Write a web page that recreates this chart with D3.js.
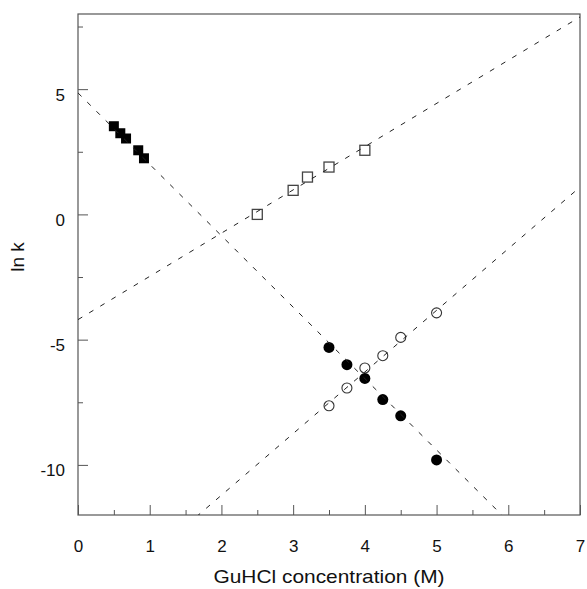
<!DOCTYPE html>
<html>
<head>
<meta charset="utf-8">
<script src="https://cdn.jsdelivr.net/npm/d3@7"></script>
<style>
  html, body { margin: 0; padding: 0; background: #fff; }
  text { font-family: "Liberation Sans", Arial, sans-serif; fill: #111; }
</style>
</head>
<body>
<svg id="chart" width="587" height="589"></svg>
<script>
// ---- Data ----
const filledSquareX = [0.5, 0.59, 0.67, 0.84, 0.92];
const filledSquareY = [3.52, 3.24, 3.03, 2.56, 2.24];
const openSquareX = [2.5, 3.0, 3.2, 3.5, 4.0];
const openSquareY = [0.0, 0.96, 1.49, 1.89, 2.56];
const openCircleX = [3.5, 3.75, 4.0, 4.25, 4.5, 5.0];
const openCircleY = [-7.64, -6.93, -6.13, -5.64, -4.91, -3.93];
const filledCircleX = [3.5, 3.75, 4.0, 4.25, 4.5, 5.0];
const filledCircleY = [-5.31, -6.0, -6.55, -7.39, -8.04, -9.8];
// fitted lines: [slope, intercept]
const fitLines = [[-2.851, 4.85], [1.726, -4.2], [2.46, -16.13]];
const xTicks = [0, 1, 2, 3, 4, 5, 6, 7];
const xMinorTicks = [0.5, 1.5, 2.5, 3.5, 4.5, 5.5, 6.5];
const yTicks = [-10, -5, 0, 5];
const yMinorTicks = [-7.5, -2.5, 2.5, 7.5];
const xDomain = [0, 7];
const yDomain = [-12, 8];
const xTitle = "GuHCl concentration (M)";
const yTitle = "ln k";

// ---- Layout ----
const L = 78, R = 580, T = 14, B = 515;
const svg = d3.select("#chart");
const x = d3.scaleLinear().domain(xDomain).range([L, R]);
const y = d3.scaleLinear().domain(yDomain).range([B, T]);
const axisColor = "#555";
const fmt = d => String(d);

svg.append("defs").append("clipPath").attr("id", "clip")
  .append("rect").attr("x", L).attr("y", T).attr("width", R - L).attr("height", B - T);

// ---- Axes ----
const gx = svg.append("g").attr("transform", `translate(0,${B})`)
  .call(d3.axisBottom(x).tickValues(xTicks).tickSize(-10).tickPadding(0).tickFormat(fmt));
gx.select(".domain").remove();
gx.selectAll(".tick line").attr("stroke", axisColor);
gx.selectAll(".tick text").attr("y", 37).attr("dy", 0).attr("font-size", 17)
  .style("font-family", '"Liberation Sans", Arial, sans-serif').attr("fill", "#111");

const gxm = svg.append("g").attr("transform", `translate(0,${B})`)
  .call(d3.axisBottom(x).tickValues(xMinorTicks).tickSize(-5).tickFormat(""));
gxm.select(".domain").remove();
gxm.selectAll(".tick line").attr("stroke", axisColor);

const gy = svg.append("g").attr("transform", `translate(${L},0)`)
  .call(d3.axisLeft(y).tickValues(yTicks).tickSize(-10).tickPadding(13).tickFormat(fmt));
gy.select(".domain").remove();
gy.selectAll(".tick line").attr("stroke", axisColor);
gy.selectAll(".tick text").attr("dy", "0.65em").attr("font-size", 17)
  .style("font-family", '"Liberation Sans", Arial, sans-serif').attr("fill", "#111");

const gym = svg.append("g").attr("transform", `translate(${L},0)`)
  .call(d3.axisLeft(y).tickValues(yMinorTicks).tickSize(-5).tickFormat(""));
gym.select(".domain").remove();
gym.selectAll(".tick line").attr("stroke", axisColor);

// frame
svg.append("rect").attr("x", L).attr("y", T).attr("width", R - L).attr("height", B - T)
  .attr("fill", "none").attr("stroke", axisColor).attr("stroke-width", 1.2);

// titles
svg.append("text").attr("x", (L + R) / 2).attr("y", 583).attr("text-anchor", "middle")
  .attr("font-size", 19).attr("textLength", 231).attr("lengthAdjust", "spacingAndGlyphs").text(xTitle);
svg.append("text").attr("transform", "translate(24,257) rotate(-90)").attr("text-anchor", "middle")
  .attr("font-size", 19).text(yTitle);

// ---- Markers ----
const plot = svg.append("g");
const sq = 10;
plot.selectAll(".fs").data(d3.zip(filledSquareX, filledSquareY)).join("rect")
  .attr("x", d => x(d[0]) - sq / 2).attr("y", d => y(d[1]) - sq / 2)
  .attr("width", sq).attr("height", sq).attr("fill", "#000");
plot.selectAll(".os").data(d3.zip(openSquareX, openSquareY)).join("rect")
  .attr("x", d => x(d[0]) - sq / 2).attr("y", d => y(d[1]) - sq / 2)
  .attr("width", sq).attr("height", sq).attr("fill", "none").attr("stroke", "#444").attr("stroke-width", 1.3);
plot.selectAll(".oc").data(d3.zip(openCircleX, openCircleY)).join("circle")
  .attr("cx", d => x(d[0])).attr("cy", d => y(d[1])).attr("r", 5)
  .attr("fill", "none").attr("stroke", "#333").attr("stroke-width", 1.1);
plot.selectAll(".fc").data(d3.zip(filledCircleX, filledCircleY)).join("circle")
  .attr("cx", d => x(d[0])).attr("cy", d => y(d[1])).attr("r", 5.5).attr("fill", "#000");

// ---- Fit lines ----
const lg = svg.append("g").attr("clip-path", "url(#clip)");
fitLines.forEach(([m, b]) => {
  lg.append("line")
    .attr("x1", x(xDomain[0])).attr("y1", y(m * xDomain[0] + b))
    .attr("x2", x(xDomain[1])).attr("y2", y(m * xDomain[1] + b))
    .attr("stroke", "#222").attr("stroke-width", 1).attr("stroke-dasharray", "5,8");
});
</script>
</body>
</html>
